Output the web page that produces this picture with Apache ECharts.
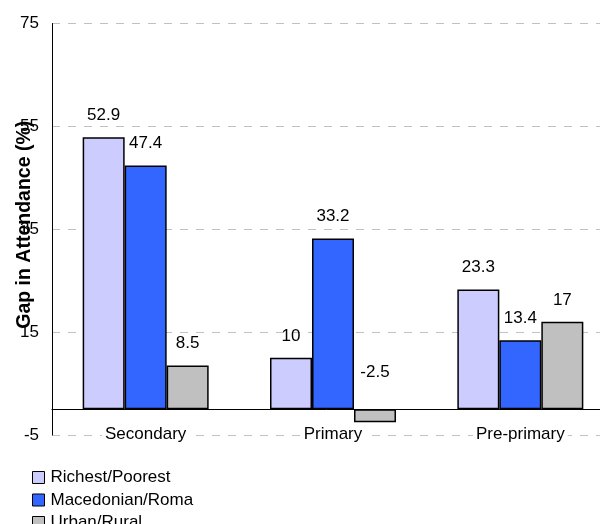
<!DOCTYPE html>
<html>
<head>
<meta charset="utf-8">
<script src="https://cdn.jsdelivr.net/npm/echarts@6/dist/echarts.min.js"></script>
<style>
  html, body { margin: 0; padding: 0; background: #fff; }
  #chart { width: 600px; height: 524px; }
</style>
</head>
<body>
<div id="chart"></div>
<script>
// School attendance gaps by level of education
const levels = ['Secondary', 'Primary', 'Pre-primary'];
const richestPoorest = [52.9, 10, 23.3];
const macedonianRoma = [47.4, 33.2, 13.4];
const urbanRural = [8.5, -2.5, 17];
const seriesNames = ['Richest/Poorest', 'Macedonian/Roma', 'Urban/Rural'];
const seriesColors = ['#CCCCFF', '#3366FF', '#C0C0C0'];
const yMin = -5, yMax = 75, yStep = 20;

const FONT = "'Liberation Sans', Arial, sans-serif";

function barSeries(name, values, color) {
  return {
    name: name,
    type: 'bar',
    barWidth: 42,
    barGap: '0%',
    data: values.map(v => {
      const item = { value: v };
      if (v < 0) item.label = { offset: [0, -15] };
      return item;
    }),
    itemStyle: { color: color, borderColor: '#000', borderWidth: 1.5 },
    label: {
      show: true,
      position: 'top',
      distance: 13.5,
      color: '#000',
      fontSize: 17,
      fontFamily: FONT
    }
  };
}

const chart = echarts.init(document.getElementById('chart'), null, { renderer: 'canvas' });
chart.setOption({
  animation: false,
  backgroundColor: '#fff',
  textStyle: { fontFamily: FONT },
  grid: { left: 52, top: 23.5, right: -14, bottom: 89, containLabel: false, outerBoundsMode: 'none' },
  legend: {
    orient: 'vertical',
    left: 32,
    top: 469,
    height: 70,
    padding: 0,
    itemWidth: 12,
    itemHeight: 12,
    itemGap: 5.5,
    icon: 'rect',
    itemStyle: { borderColor: '#000', borderWidth: 1 },
    textStyle: { fontSize: 17, color: '#000', fontFamily: FONT, padding: [0, 0, 0, 1] },
    data: seriesNames
  },
  xAxis: {
    type: 'category',
    data: levels,
    axisLine: { onZero: true, lineStyle: { color: '#000', width: 1 } },
    axisTick: { show: false },
    axisLabel: {
      fontSize: 17,
      color: '#000',
      fontFamily: FONT,
      margin: -9.5,
      backgroundColor: '#fff',
      padding: [0, 3]
    }
  },
  yAxis: {
    type: 'value',
    min: yMin,
    max: yMax,
    interval: yStep,
    name: 'Gap in Attendance (%)',
    nameLocation: 'middle',
    nameGap: 17,
    nameMoveOverlap: false,
    nameTextStyle: { fontSize: 19.5, fontWeight: 'bold', color: '#000', fontFamily: FONT, padding: [0, 0, 0, 9] },
    axisLine: { show: true, lineStyle: { color: '#000', width: 1 } },
    axisTick: { show: false },
    axisLabel: { fontSize: 17, color: '#000', fontFamily: FONT, margin: 13 },
    splitLine: { show: true, lineStyle: { color: '#C0C0C0', width: 1, type: [8, 8] } }
  },
  series: [
    barSeries(seriesNames[0], richestPoorest, seriesColors[0]),
    barSeries(seriesNames[1], macedonianRoma, seriesColors[1]),
    barSeries(seriesNames[2], urbanRural, seriesColors[2])
  ]
});
</script>
</body>
</html>
